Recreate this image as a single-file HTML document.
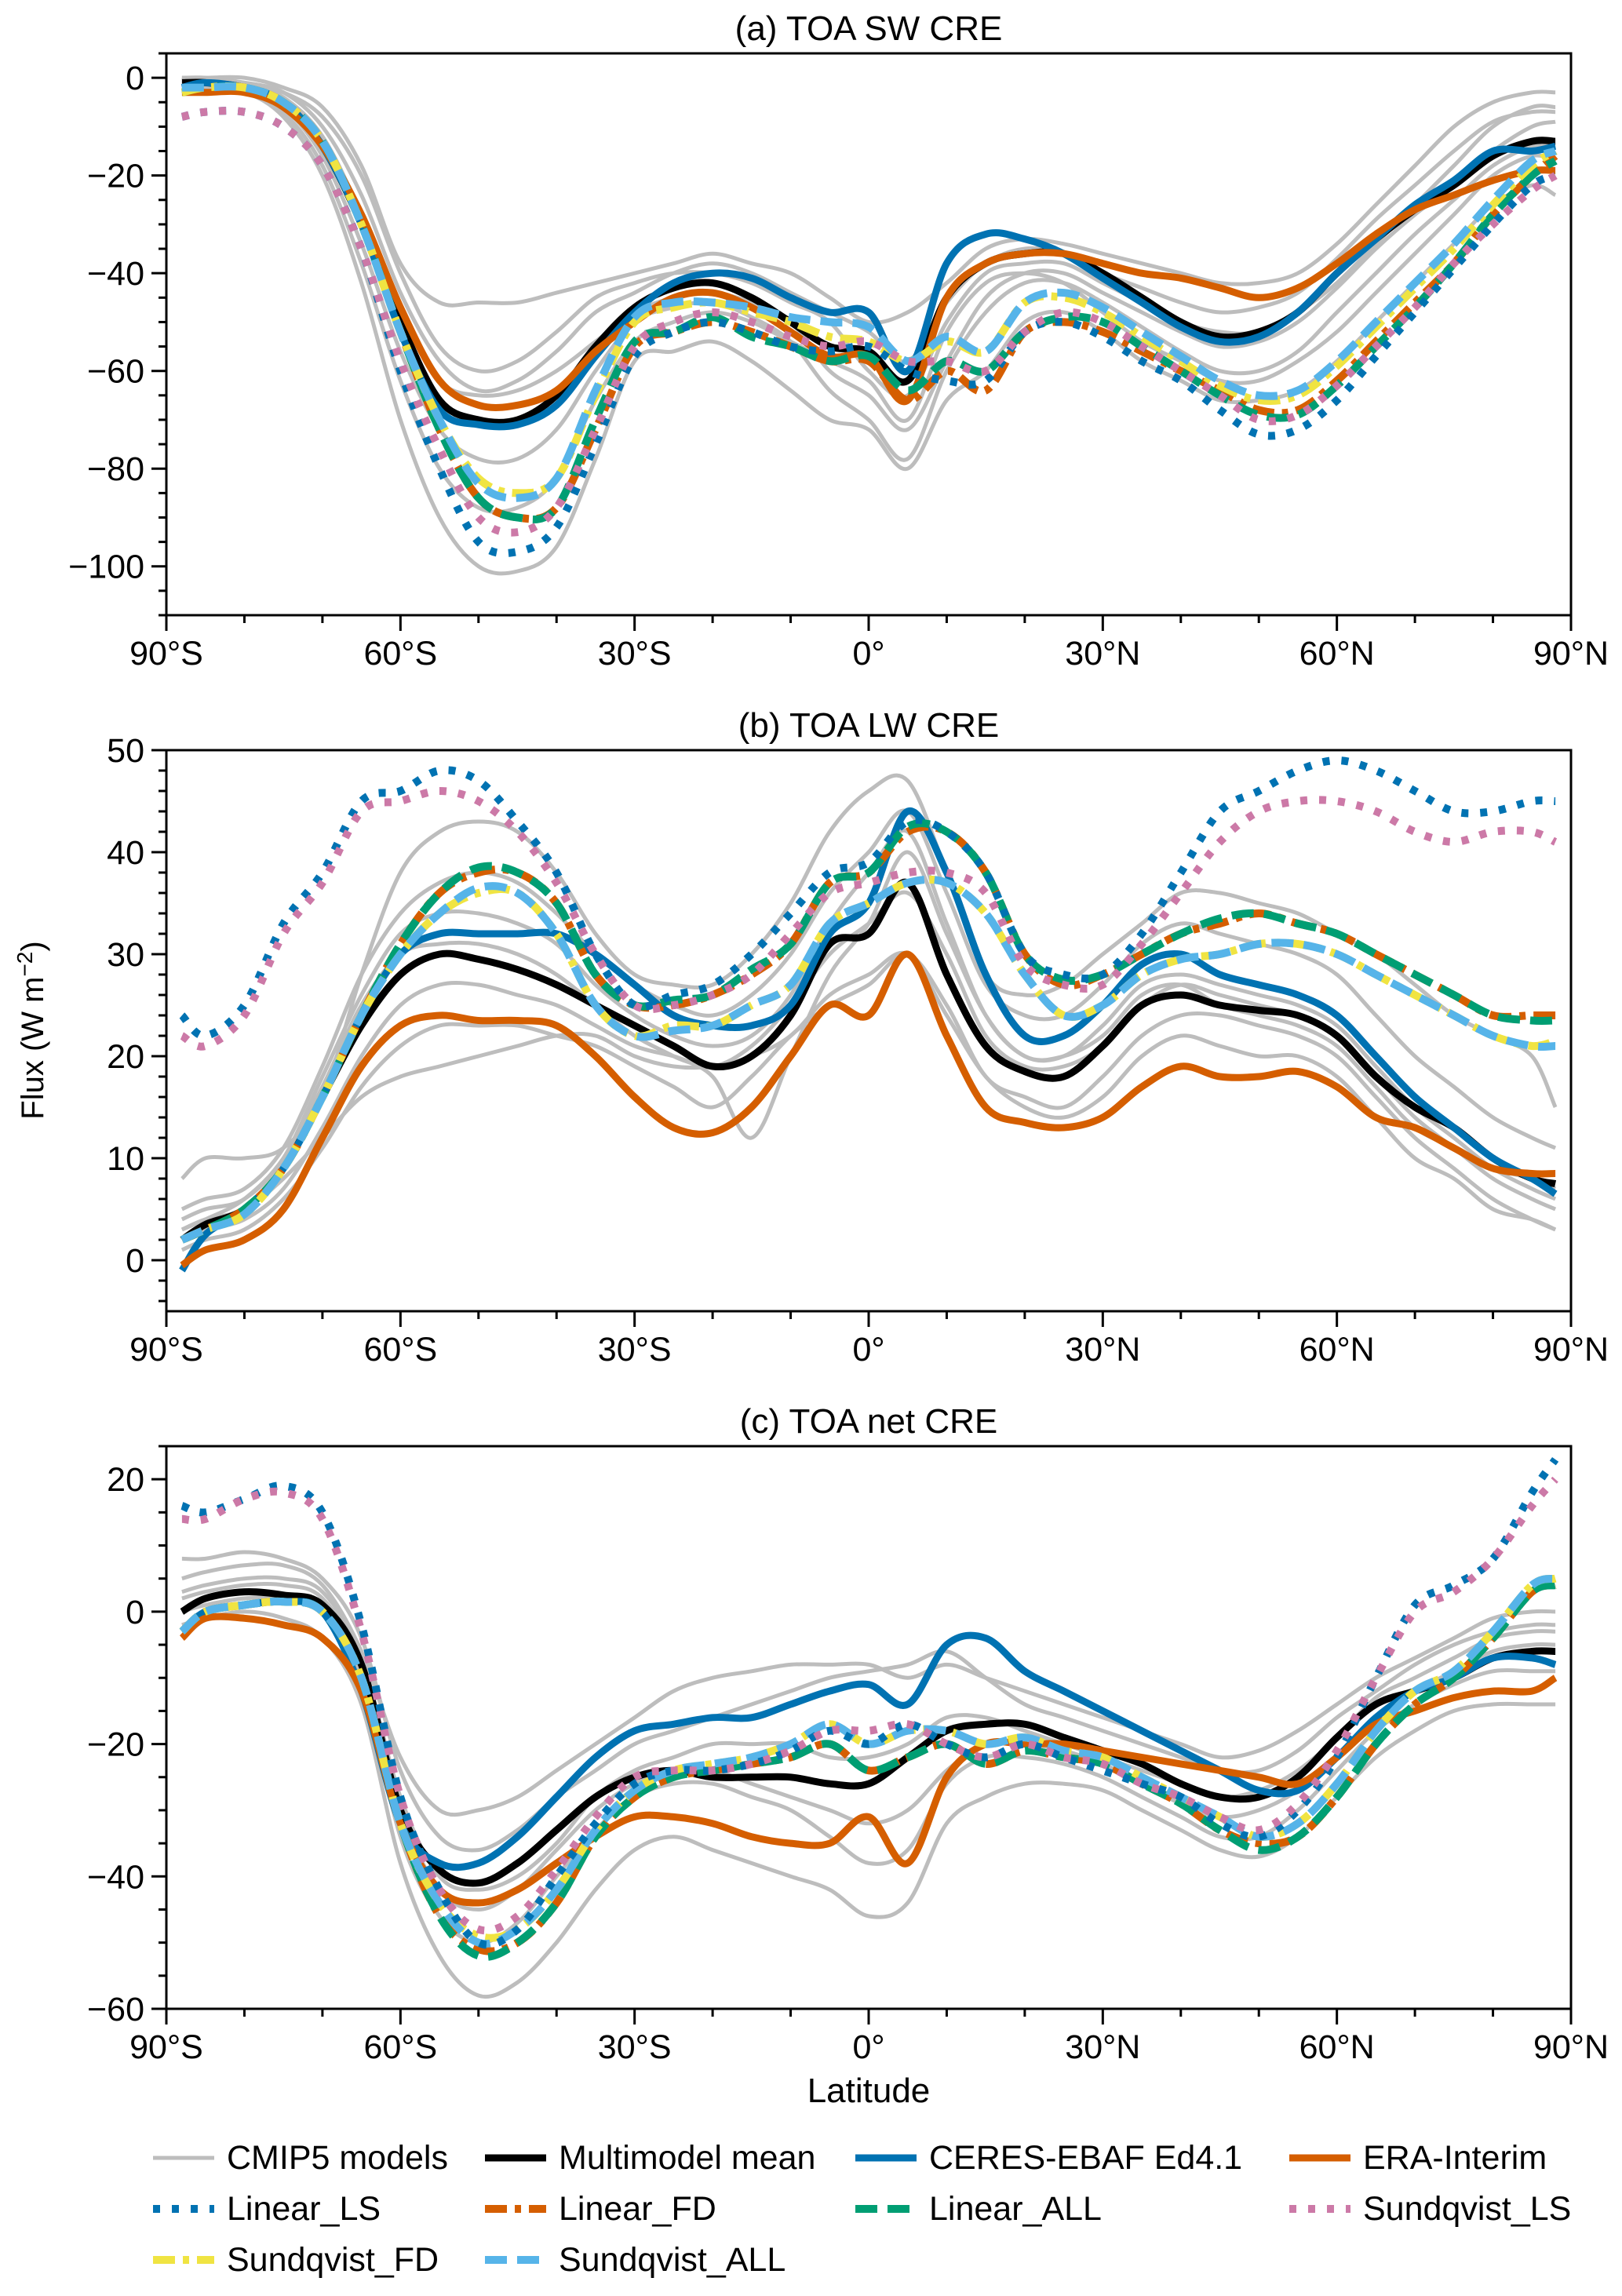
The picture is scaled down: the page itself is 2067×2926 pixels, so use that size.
<!DOCTYPE html>
<html><head><meta charset="utf-8"><style>
html,body{margin:0;padding:0;background:#fff}
svg{display:block}
text{font-family:"Liberation Sans",Arial,sans-serif;fill:#000}
</style></head><body>
<svg id="chart" width="2067" height="2926" viewBox="0 0 2067 2926" xmlns="http://www.w3.org/2000/svg"></svg>
<script>
const lats=[-88,-85,-80,-75,-70,-65,-60,-55,-50,-45,-40,-35,-30,-25,-20,-15,-10,-5,0,5,10,15,20,25,30,35,40,45,50,55,60,65,70,75,80,85,88];
const xTickLabels=['90°S','60°S','30°S','0°','30°N','60°N','90°N'];
const xTickValues=[-90,-60,-30,0,30,60,90];
// Panel a: TOA SW CRE
const aMean=[-1,-1,-2,-5,-14,-30,-50,-66,-70,-70,-65,-55,-47,-43,-42,-45,-50,-55,-56,-62,-45,-38,-36,-36,-40,-45,-50,-53,-52,-48,-40,-33,-27,-22,-16,-13,-13];
const aCeres=[-2,-1,-2,-5,-14,-30,-52,-68,-71,-71,-67,-57,-48,-42,-40,-41,-45,-48,-48,-60,-38,-32,-33,-36,-41,-46,-51,-54,-53,-48,-40,-33,-26,-21,-15,-15,-14];
const aEra=[-3,-3,-3,-6,-14,-28,-47,-62,-67,-67,-64,-56,-50,-45,-44,-47,-52,-57,-57,-66,-45,-38,-36,-36,-38,-40,-41,-43,-45,-43,-38,-32,-27,-24,-21,-19,-19];
const aLinLS=[-8,-7,-7,-10,-18,-35,-60,-80,-95,-97,-92,-75,-57,-52,-50,-52,-55,-56,-55,-60,-62,-62,-52,-50,-53,-58,-62,-68,-73,-72,-66,-57,-48,-39,-30,-22,-20];
const aSunLS=[-8,-7,-7,-10,-18,-35,-58,-76,-90,-93,-88,-72,-55,-50,-48,-50,-53,-55,-54,-58,-58,-60,-52,-48,-50,-55,-60,-65,-70,-69,-63,-55,-47,-38,-30,-23,-20];
const aLinFD=[-3,-2,-2,-5,-13,-30,-52,-72,-86,-90,-88,-72,-55,-52,-50,-52,-55,-58,-58,-66,-60,-64,-52,-50,-52,-56,-60,-64,-68,-68,-62,-54,-46,-38,-28,-20,-16];
const aLinALL=[-3,-2,-2,-5,-13,-30,-52,-72,-86,-90,-88,-70,-54,-52,-49,-53,-55,-58,-57,-64,-58,-60,-52,-49,-50,-55,-60,-65,-69,-69,-63,-55,-47,-38,-28,-20,-17];
const aSunFD=[-3,-2,-2,-5,-13,-30,-52,-70,-82,-85,-82,-65,-50,-47,-46,-48,-50,-53,-54,-58,-54,-56,-46,-45,-48,-53,-58,-63,-66,-65,-59,-51,-43,-35,-26,-18,-15];
const aSunALL=[-2,-2,-2,-5,-13,-30,-52,-70,-83,-86,-82,-64,-49,-46,-46,-47,-49,-50,-51,-58,-53,-56,-46,-44,-47,-52,-57,-62,-65,-64,-58,-50,-42,-34,-25,-17,-15];
const aModels=[
[0,0,0,-2,-6,-18,-38,-46,-46,-46,-44,-42,-40,-38,-36,-38,-40,-45,-50,-48,-42,-35,-33,-34,-36,-38,-40,-42,-42,-40,-34,-26,-18,-10,-5,-3,-3],
[-3,-3,-3,-8,-20,-42,-70,-90,-100,-101,-96,-78,-58,-56,-54,-58,-64,-70,-72,-80,-66,-60,-50,-48,-52,-58,-62,-66,-66,-64,-58,-50,-42,-34,-26,-22,-24],
[0,-1,-1,-3,-8,-20,-40,-55,-60,-58,-52,-45,-42,-40,-40,-42,-46,-50,-60,-65,-50,-40,-38,-38,-42,-46,-50,-52,-52,-48,-42,-34,-26,-18,-10,-6,-6],
[-1,-1,-1,-4,-12,-28,-48,-62,-65,-64,-60,-54,-48,-45,-44,-46,-50,-60,-65,-72,-58,-45,-40,-40,-44,-48,-52,-55,-54,-50,-43,-35,-28,-22,-15,-10,-9],
[-1,-1,-2,-6,-16,-34,-56,-72,-78,-78,-72,-60,-50,-47,-46,-49,-54,-64,-70,-78,-60,-48,-42,-42,-46,-51,-56,-60,-60,-56,-48,-40,-32,-25,-18,-14,-14],
[-2,-2,-2,-7,-18,-38,-62,-80,-88,-88,-82,-66,-54,-50,-48,-50,-54,-58,-62,-70,-52,-42,-40,-42,-48,-54,-58,-62,-62,-58,-52,-44,-36,-28,-20,-16,-17],
[0,0,-1,-3,-10,-24,-44,-58,-64,-62,-56,-48,-44,-40,-38,-40,-44,-48,-52,-58,-46,-38,-35,-36,-40,-43,-46,-48,-47,-44,-37,-29,-22,-15,-9,-7,-7]];
// Panel b: TOA LW CRE
const bMean=[2,3.5,5,9,16,23,28,30,29.5,28.5,27,25,23,21,19,20,24,31,32,37,28,21,18.5,18,21,25,26,25,24.5,24,22,18,15,13,10,8,7.5];
const bCeres=[-1,2.5,5,9,16,24,30,32,32,32,32,30,27,24,23,23,25,32,35,44,38,28,22,22,25,29,30,28,27,26,24,20,16,13,10,8,6.5];
const bEra=[-0.5,1,2,5,12,19,23,24,23.5,23.5,23,20,16,13,12.5,15,20,25,24,30,22,15,13.5,13,14,17,19,18,18,18.5,17,14,13,11,9,8.5,8.5];
const bLinLS=[24,22,25,33,38,45,46,48,47,43,38,30,25,26,27,30,34,38,39,43,42,38,30,28,28,32,38,44,46,48,49,48,46,44,44,45,45];
const bSunLS=[22,21,24,32,37,44,45,46,45,42,37,30,25,25,26,28,32,36,37,38,38,36,29,27,27,31,36,41,44,45,45,44,42,41,42,42,41];
const bLinFD=[2,3,5,9,16,24,31,36,38,38,35,28,25,25,26,28,31,37,38,42,42,38,30,27,28,30,32,33,34,33,32,30,28,26,24,24,24];
const bLinALL=[2,3,5,9,16,24,31,36,38.5,38,35,28,25,25.5,26,28.5,31,37,38,42.5,42,38,30,27.5,28,30,32,33.5,34,33,32,30,28,26,24,23.5,23.5];
const bSunFD=[2,3,4.5,9,16,24,30,34,36,36,32,25,22,23,23,25,27,33,35,37,37,34,28,24,25,28,29.5,30,31,31,30,28,26,24,22,21,21.5];
const bSunALL=[2,3,4.5,9,16,24,30,34,36.5,36,32,25,22,22.5,23,25,27,33,35,37,37,34,28,24,25,28,29.5,30,31,31,30,28,26,24,22,21,21];
const bModels=[
[8,10,10,11,16,28,38,42,43,42,38,32,28,27,27,30,35,42,46,47,38,28,26,27,30,33,36,36,35,34,32,30,27,24,22,20,15],
[3,4,5,8,12,16,18,19,20,21,22,22,20,19,19,20,22,26,28,30,24,18,15,14,16,20,22,21,20,20,18,14,10,8,5,4,3],
[4,5,6,10,18,26,32,34,34,33,31,27,24,22,21,22,26,33,38,42,33,24,20,20,23,27,28,27,26,25,23,19,15,12,9,7,6],
[2,3,4,7,13,20,25,27,27,26,25,23,21,20,19,21,25,30,33,36,30,22,19,19,21,25,27,26,25,24,22,18,14,11,8,6,5],
[5,6,7,11,19,28,34,37,38,37,34,30,27,25,24,26,30,36,40,44,36,27,24,24,27,31,33,32,31,30,28,24,20,17,14,12,11],
[1,2,3,6,11,17,21,23,23,23,22,21,19,17,15,18,22,25,27,30,25,18,16,15,18,22,24,24,23,22,20,16,12,9,6,4,3],
[3,4,6,10,17,25,30,31,31,30,28,25,22,20,18,12,20,28,33,40,32,24,20,20,22,26,27,25,24,23,21,17,13,11,9,8,7]];
// Panel c: TOA net CRE
const cMean=[0,2,3,2.5,1,-8,-30,-39,-41,-38,-33,-28,-25,-24,-25,-25,-25,-26,-26,-22,-18,-17,-17,-19,-21,-23,-26,-28,-28,-25,-19,-14,-12,-10,-7,-6,-6];
const cCeres=[-3,0,1,1.5,0,-12,-32,-38,-38,-34,-28,-22,-18,-17,-16,-16,-14,-12,-11,-14,-5,-4,-9,-12,-15,-18,-21,-24,-27,-27,-22,-16,-12,-10,-7,-7,-8];
const cEra=[-4,-1,-1,-2,-4,-12,-32,-42,-44,-42,-38,-34,-31,-31,-32,-34,-35,-35,-31,-38,-25,-20,-20,-20,-21,-22,-23,-24,-25,-26,-22,-17,-15,-13,-12,-12,-10];
const cLinLS=[16,15,17,19,15,-2,-28,-42,-50,-48,-40,-32,-26,-24,-24,-23,-21,-18,-20,-17,-20,-22,-20,-22,-24,-26,-28,-32,-34,-30,-22,-10,1,4,8,18,23];
const cSunLS=[14,14,17,18,14,-3,-28,-42,-48,-46,-39,-31,-25,-24,-24,-23,-21,-18,-18,-17,-20,-22,-20,-22,-23,-26,-28,-31,-33,-29,-21,-10,0,3,8,16,20];
const cLinFD=[-3,0,1,1.5,0,-10,-32,-46,-51,-50,-44,-34,-28,-25,-24,-23,-22,-20,-24,-22,-20,-23,-21,-22,-23,-26,-29,-33,-35,-34,-28,-20,-14,-10,-4,3,4];
const cLinALL=[-3,0,1,1.5,0,-10,-32,-46,-52,-50,-44,-34,-28,-25,-24,-23,-22,-20,-24,-22,-20,-23,-21,-22,-23,-26,-29,-33,-36,-34,-28,-20,-14,-10,-4,3,4];
const cSunFD=[-3,0,1,1.5,0,-10,-32,-44,-49,-48,-42,-33,-27,-24,-23,-22,-20,-17,-20,-18,-18,-20,-19,-21,-22,-25,-28,-31,-34,-32,-26,-18,-12,-9,-3,4,5];
const cSunALL=[-3,0,1,1.5,0,-10,-32,-44,-50,-48,-42,-33,-27,-24,-23,-22,-20,-17,-20,-18,-18,-20,-19,-21,-22,-25,-28,-31,-34,-32,-26,-18,-12,-9,-3,4,5];
const cModels=[
[5,6,7,7,4,-6,-22,-30,-30,-28,-24,-20,-16,-12,-10,-9,-8,-8,-8,-10,-8,-10,-12,-14,-16,-18,-20,-22,-21,-18,-14,-10,-7,-4,-1,0,0],
[-2,-1,0,-1,-4,-14,-38,-52,-58,-56,-50,-42,-36,-34,-36,-38,-40,-42,-46,-44,-32,-28,-26,-26,-27,-30,-33,-36,-37,-34,-28,-22,-18,-15,-14,-14,-14],
[2,3,4,4,2,-8,-30,-42,-45,-42,-36,-30,-26,-24,-24,-26,-28,-30,-32,-30,-24,-20,-20,-21,-23,-26,-29,-31,-30,-27,-22,-16,-12,-9,-6,-5,-5],
[0,1,2,2,0,-10,-34,-46,-50,-47,-40,-33,-28,-26,-26,-28,-30,-34,-38,-36,-26,-22,-22,-23,-25,-28,-31,-34,-34,-30,-24,-18,-14,-11,-9,-9,-9],
[8,8,9,8,5,-4,-24,-34,-36,-33,-28,-24,-20,-18,-16,-14,-12,-10,-9,-8,-6,-10,-14,-16,-18,-20,-22,-24,-24,-21,-16,-12,-8,-5,-3,-2,-2],
[3,4,5,5,3,-7,-28,-40,-42,-40,-35,-28,-24,-22,-20,-20,-20,-22,-22,-20,-16,-16,-18,-20,-22,-24,-26,-28,-27,-24,-19,-13,-10,-7,-4,-3,-3]];
const legendLabels=['CMIP5 models','Multimodel mean','CERES-EBAF Ed4.1','ERA-Interim','Linear_LS','Linear_FD','Linear_ALL','Sundqvist_LS','Sundqvist_FD','Sundqvist_ALL'];

const NS='http://www.w3.org/2000/svg';
const svg=document.getElementById('chart');
function mk(tag,attrs,parent){const e=document.createElementNS(NS,tag);for(const k in attrs)e.setAttribute(k,attrs[k]);(parent||svg).appendChild(e);return e;}
const X0=212,X1=2002;
function xs(lat){return X0+(lat+90)/180*(X1-X0);}
const styles={
 model:{c:'#bdbdbd',w:5,d:''},
 mean:{c:'#000',w:9,d:''},
 ceres:{c:'#0072B2',w:9,d:''},
 era:{c:'#D55E00',w:9,d:''},
 linLS:{c:'#0072B2',w:10,d:'9 15'},
 linFD:{c:'#D55E00',w:10,d:'28 10 8 10'},
 linALL:{c:'#009E73',w:10,d:'28 13'},
 sunLS:{c:'#CC79A7',w:10,d:'9 15'},
 sunFD:{c:'#F0E442',w:10,d:'28 10 8 10'},
 sunALL:{c:'#56B4E9',w:10,d:'28 13'}
};
const panels=[
 {id:'a',title:'(a) TOA SW CRE',top:68,bot:784,ymin:-110,ymax:5,major:20,minor:5,models:aModels,series:{mean:aMean,ceres:aCeres,era:aEra,linLS:aLinLS,linFD:aLinFD,linALL:aLinALL,sunLS:aSunLS,sunFD:aSunFD,sunALL:aSunALL}},
 {id:'b',title:'(b) TOA LW CRE',top:956,bot:1671,ymin:-5,ymax:50,major:10,minor:2,models:bModels,series:{mean:bMean,ceres:bCeres,era:bEra,linLS:bLinLS,linFD:bLinFD,linALL:bLinALL,sunLS:bSunLS,sunFD:bSunFD,sunALL:bSunALL}},
 {id:'c',title:'(c) TOA net CRE',top:1843,bot:2560,ymin:-60,ymax:25,major:20,minor:5,models:cModels,series:{mean:cMean,ceres:cCeres,era:cEra,linLS:cLinLS,linFD:cLinFD,linALL:cLinALL,sunLS:cSunLS,sunFD:cSunFD,sunALL:cSunALL}}
];
function smoothPath(pts){
 let d='M'+pts[0][0].toFixed(1)+','+pts[0][1].toFixed(1);
 for(let i=0;i<pts.length-1;i++){
  const p0=pts[Math.max(0,i-1)],p1=pts[i],p2=pts[i+1],p3=pts[Math.min(pts.length-1,i+2)];
  const c1x=p1[0]+(p2[0]-p0[0])/6,c1y=p1[1]+(p2[1]-p0[1])/6;
  const c2x=p2[0]-(p3[0]-p1[0])/6,c2y=p2[1]-(p3[1]-p1[1])/6;
  d+=' C'+c1x.toFixed(1)+','+c1y.toFixed(1)+' '+c2x.toFixed(1)+','+c2y.toFixed(1)+' '+p2[0].toFixed(1)+','+p2[1].toFixed(1);
 }
 return d;
}
panels.forEach(p=>{
 const ys=v=>p.top+(p.ymax-v)/(p.ymax-p.ymin)*(p.bot-p.top);
 const g=mk('g',{});
 
 
 const clipId='clip'+p.id;
 const cp=mk('clipPath',{id:clipId},g);
 mk('rect',{x:X0,y:p.top,width:X1-X0,height:p.bot-p.top},cp);
 const t=mk('text',{x:(X0+X1)/2,y:p.top-17,'font-size':44,'text-anchor':'middle'},g);
 t.textContent=p.title;
 
 
 const lines=mk('g',{'clip-path':'url(#'+clipId+')'},g);
 p.models.forEach((m,i)=>{
  const path=mk('path',{d:smoothPath(lats.map((l,j)=>[xs(l),ys(m[j])])),fill:'none',stroke:styles.model.c,'stroke-width':styles.model.w,'stroke-linejoin':'round'},lines);
  
  
 });
 ['mean','ceres','era','linFD','linALL','sunFD','sunALL','linLS','sunLS'].forEach(k=>{
  const s=styles[k];const vals=p.series[k];
  const path=mk('path',{d:smoothPath(lats.map((l,j)=>[xs(l),ys(vals[j])])),fill:'none',stroke:s.c,'stroke-width':s.w,'stroke-dasharray':s.d,'stroke-linejoin':'round'},lines);
  
  
 });
 const fr=mk('rect',{x:X0,y:p.top,width:X1-X0,height:p.bot-p.top,fill:'none',stroke:'#000','stroke-width':3},g);
 
 
 const ya=mk('g',{},g);
 
 
 for(let v=Math.ceil(p.ymin/p.minor)*p.minor;v<=p.ymax+1e-9;v+=p.minor){
  const isMaj=Math.abs(v/p.major-Math.round(v/p.major))<1e-9;
  const y=ys(v);
  mk('line',{x1:X0,x2:X0-(isMaj?19:10),y1:y,y2:y,stroke:'#000','stroke-width':3},ya);
  if(isMaj){const tl=mk('text',{x:X0-28,y:y+15,'font-size':43,'text-anchor':'end'},ya);tl.textContent=String(v).replace('-','\u2212');}
 }
 const xa=mk('g',{},g);
 
 
 for(let l=-90;l<=90;l+=10){
  const isMaj=l%30===0;const x=xs(l);
  mk('line',{x1:x,x2:x,y1:p.bot,y2:p.bot+(isMaj?20:10),stroke:'#000','stroke-width':3},xa);
 }
 xTickValues.forEach((v,i)=>{const tl=mk('text',{x:xs(v),y:p.bot+63,'font-size':43,'text-anchor':'middle'},xa);tl.textContent=xTickLabels[i];});
});
const yl=mk('text',{x:0,y:0,'font-size':40,'text-anchor':'middle',transform:'translate(55,1313) rotate(-90)'});
yl.innerHTML='Flux (W m<tspan dy="-14" font-size="28">\u22122</tspan><tspan dy="14">)</tspan>';


const xl=mk('text',{x:(X0+X1)/2,y:2679,'font-size':44,'text-anchor':'middle'});
xl.textContent='Latitude';


const legKeys=['model','mean','ceres','era','linLS','linFD','linALL','sunLS','sunFD','sunALL'];
const colX=[195,618,1090,1643];const rowY=[2764,2829,2894];
const leg=mk('g',{});


legKeys.forEach((k,i)=>{
 const r=Math.floor(i/4),c=i%4;const s=styles[k];
 const e=mk('g',{},leg);
 
 
 mk('line',{x1:colX[c],x2:colX[c]+78,y1:rowY[r]-14,y2:rowY[r]-14,stroke:s.c,'stroke-width':k==='model'?5:s.w,'stroke-dasharray':s.d},e);
 const tx=mk('text',{x:colX[c]+94,y:rowY[r],'font-size':43},e);
 tx.textContent=legendLabels[i];
});
</script>
</body></html>
